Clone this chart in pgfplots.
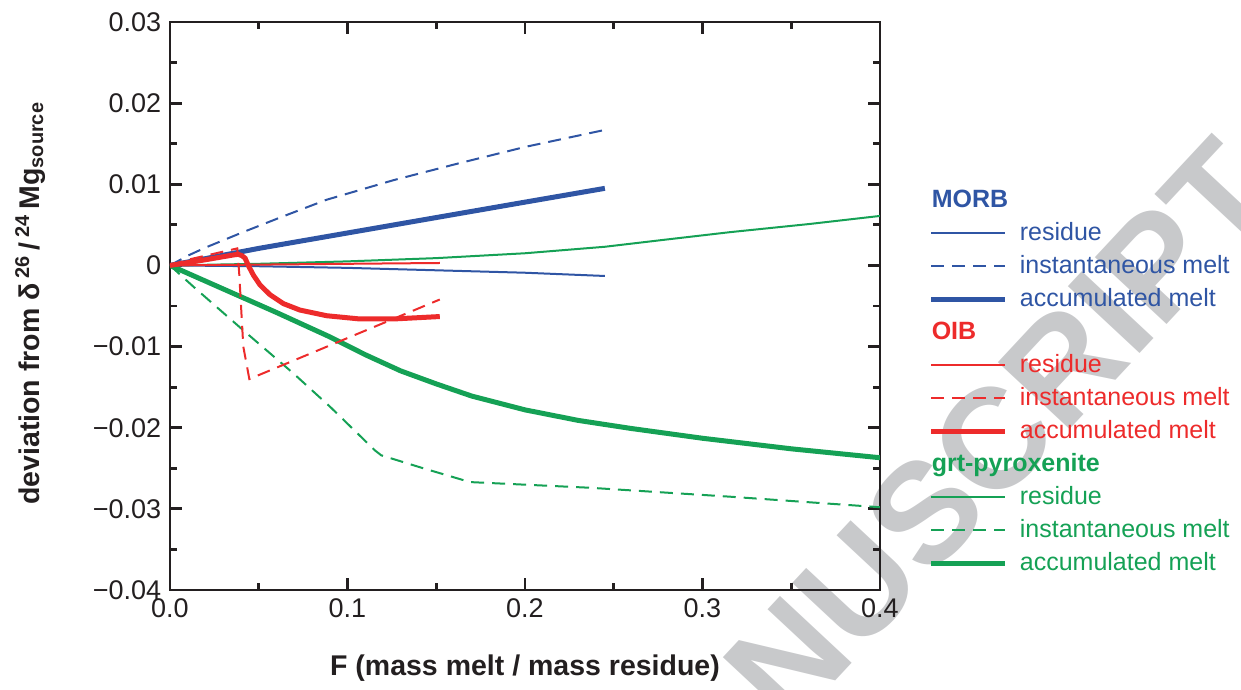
\documentclass[border=0pt]{standalone}
\usepackage{pgfplots}
\pgfplotsset{compat=1.18}
\usepackage{fontspec}
\setmainfont{Liberation Sans}
\definecolor{morb}{HTML}{2F55A4}
\definecolor{oib}{HTML}{ED2B2B}
\definecolor{grt}{HTML}{15A155}
\definecolor{wm}{HTML}{C8C9CB}
\definecolor{axblack}{HTML}{231F20}

% legend header: text drawn in the image column
\pgfplotsset{
  header/.style 2 args={legend image code/.code={%
    \node[overlay, anchor=west, inner sep=0pt, text height=7.5pt, text depth=2pt,
      text=#1, font=\fontsize{10}{12}\selectfont\bfseries] at (0pt,0pt) {#2};}},
}

\begin{document}
\begin{tikzpicture}
% page = whole reference frame
\path[use as bounding box] (-68pt,-40pt) rectangle (428.4pt,236pt);
% watermark behind everything
\node[rotate=47, text=wm, font=\fontsize{57}{60}\selectfont\bfseries] at (302pt,31pt) {MANUSCRIPT};
\begin{axis}[
  scale only axis,
  width=284pt, height=227.2pt,
  xmin=0, xmax=0.4, ymin=-0.04, ymax=0.03,
  scaled y ticks=false, scaled x ticks=false,
  xtick={0,0.1,0.2,0.3,0.4},
  xticklabels={0.0,0.1,0.2,0.3,0.4},
  ytick={-0.04,-0.03,-0.02,-0.01,0,0.01,0.02,0.03},
  yticklabels={−0.04,−0.03,−0.02,−0.01,0,0.01,0.02,0.03},
  minor x tick num=1, minor y tick num=1,
  tick align=inside,
  major tick length=4.8pt, minor tick length=2.8pt,
  axis line style={line width=1.1pt, axblack},
  every tick/.style={line width=1.1pt, axblack},
  tick label style={font=\fontsize{10.8}{13}\selectfont, text=axblack},
  xlabel={F (mass melt / mass residue)},
  ylabel={deviation from δ\,\textsuperscript{26}\,/\,\textsuperscript{24}\,Mg\textsubscript{source}},
  label style={font=\fontsize{11.4}{13}\selectfont\bfseries, text=axblack},
  xlabel style={at={(rel axis cs:0.5,-0.1514)}, anchor=base},
  ylabel style={at={(rel axis cs:-0.197,0.505)}, anchor=center},
  legend style={at={(1.068,0.716)}, anchor=north west, draw=none, fill=none,
    inner sep=0pt, row sep=0pt,
    nodes={inner sep=1.85pt, text height=7.5pt, text depth=2pt,
      font=\fontsize{10}{12}\selectfont},
    /tikz/every odd column/.append style={column sep=3pt}},
  legend cell align=left,
  legend image code/.code={\draw[#1] (0pt,0pt) -- (29.6pt,0pt);},
  dashed/.style={dash pattern=on 5.2pt off 3.2pt},
]
% MORB
\addplot[morb, line width=0.8pt, forget plot] coordinates {
  (0,0) (0.05,-0.0001) (0.1,-0.0003) (0.15,-0.0006) (0.2,-0.0009) (0.245,-0.0013)};
\addplot[morb, line width=0.8pt, dashed, forget plot] coordinates {
  (0,0) (0.01,0.0012) (0.02,0.0022) (0.04,0.0040) (0.062,0.0059) (0.0883,0.0081)
  (0.1258,0.0105) (0.163,0.0126) (0.2,0.0146) (0.245,0.0167)};
\addplot[morb, line width=2pt, forget plot] coordinates {
  (0,0) (0.05,0.0021) (0.1,0.0040) (0.15,0.0059) (0.2,0.0078) (0.245,0.0095)};
% grt-pyroxenite
\addplot[grt, line width=0.8pt, forget plot] coordinates {
  (0,0) (0.05,0.0002) (0.1,0.0005) (0.15,0.0009) (0.2,0.0015) (0.245,0.0023)
  (0.28,0.0032) (0.3155,0.0041) (0.36,0.0051) (0.4,0.0061)};
\addplot[grt, line width=0.8pt, dashed, forget plot] coordinates {
  (0,0) (0.0131,-0.0026) (0.0413,-0.0080) (0.0695,-0.0133) (0.0901,-0.0174)
  (0.1155,-0.0228) (0.119,-0.0234) (0.1427,-0.0250) (0.169,-0.0267)
  (0.2366,-0.0274) (0.3155,-0.0285) (0.4,-0.0298)};
\addplot[grt, line width=2pt, forget plot] coordinates {
  (0,0) (0.03,-0.0029) (0.06,-0.0058) (0.09,-0.0088) (0.11,-0.0110)
  (0.13,-0.0130) (0.15,-0.0146) (0.17,-0.0161) (0.2,-0.0178) (0.23,-0.0191)
  (0.26,-0.0201) (0.3,-0.0213) (0.35,-0.0226) (0.4,-0.0237)};
% OIB
\addplot[oib, line width=0.8pt, forget plot] coordinates {
  (0,0) (0.05,0.0001) (0.1,0.0002) (0.152,0.0003)};
\addplot[oib, line width=0.8pt, dashed, forget plot] coordinates {
  (0,0) (0.01,0.0007) (0.02,0.0012) (0.03,0.0017) (0.0379,0.0021)
  (0.0390,-0.0010) (0.0413,-0.0100) (0.0447,-0.0140) (0.152,-0.0042)};
\addplot[oib, line width=2pt, forget plot] coordinates {
  (0,0) (0.02,0.0007) (0.036,0.0013) (0.0385,0.00137) (0.0405,0.0012)
  (0.0423,0.0009) (0.0441,0.0000) (0.047,-0.0012) (0.0507,-0.0024)
  (0.0563,-0.0036) (0.0638,-0.0047) (0.0732,-0.0055) (0.0883,-0.0062)
  (0.107,-0.0066) (0.1258,-0.0066) (0.152,-0.0063)};

% legend
\addlegendimage{header={morb}{MORB}}
\addlegendentry{}
\addlegendimage{morb, line width=0.8pt}
\addlegendentry[text=morb]{residue}
\addlegendimage{morb, line width=0.8pt, dashed}
\addlegendentry[text=morb]{instantaneous melt}
\addlegendimage{morb, line width=2pt}
\addlegendentry[text=morb]{accumulated melt}
\addlegendimage{header={oib}{OIB}}
\addlegendentry{}
\addlegendimage{oib, line width=0.8pt}
\addlegendentry[text=oib]{residue}
\addlegendimage{oib, line width=0.8pt, dashed}
\addlegendentry[text=oib]{instantaneous melt}
\addlegendimage{oib, line width=2pt}
\addlegendentry[text=oib]{accumulated melt}
\addlegendimage{header={grt}{grt-pyroxenite}}
\addlegendentry{}
\addlegendimage{grt, line width=0.8pt}
\addlegendentry[text=grt]{residue}
\addlegendimage{grt, line width=0.8pt, dashed}
\addlegendentry[text=grt]{instantaneous melt}
\addlegendimage{grt, line width=2pt}
\addlegendentry[text=grt]{accumulated melt}
\end{axis}
\end{tikzpicture}
\end{document}
